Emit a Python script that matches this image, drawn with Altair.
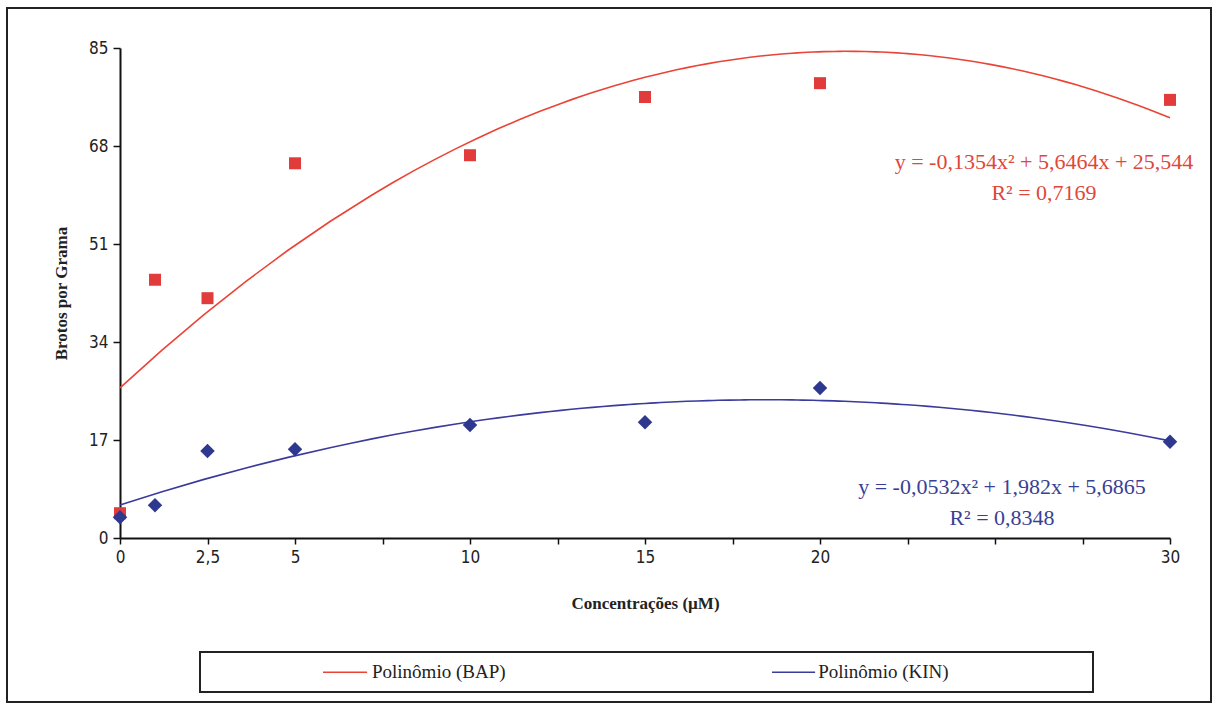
import altair as alt
import pandas as pd

# ---- data ----
conc = [0, 1, 2.5, 5, 10, 15, 20, 30]
bap = [4.3, 44.8, 41.6, 65.0, 66.4, 76.5, 78.9, 76.0]
kin = [3.6, 5.7, 15.1, 15.4, 19.6, 20.1, 26.0, 16.7]
series = ["Polinômio (BAP)", "Polinômio (KIN)"]

y_ticks = [0, 17, 34, 51, 68, 85]
x_ticks = [0, 2.5, 5, 7.5, 10, 12.5, 15, 17.5, 20, 22.5, 25, 27.5, 30]
x_labeled = [0, 2.5, 5, 10, 15, 20, 30]

eq_text = ["y = -0,1354x² + 5,6464x + 25,544", "R² = 0,7169",
           "y = -0,0532x² + 1,982x + 5,6865", "R² = 0,8348"]
eq_series = [series[0], series[0], series[1], series[1]]
eq_x = [26.4, 26.4, 25.2, 25.2]
eq_y = [65.2, 59.8, 8.85, 3.5]

# legend entries (placed in axis units, below the plot)
leg_x1 = [5.8, 18.63]
leg_x2 = [7.06, 19.86]
leg_tx = [7.2, 19.95]
leg_y = [-23.3, -23.3]

# ---- styling ----
line_colors = ["#ea4436", "#3a3b9a"]
point_colors = ["#e23b3b", "#2e388f"]
text_colors = ["#e0473a", "#3a3f95"]
tick_font = "Liberation Sans Narrow, DejaVu Sans Condensed, sans-serif"
serif = "Liberation Serif, serif"

df = pd.DataFrame({
    "conc": conc + conc,
    "value": bap + kin,
    "serie": [series[0]] * len(conc) + [series[1]] * len(conc),
})
df["serie_pt"] = df["serie"]

eq_df = pd.DataFrame({"x": eq_x, "y": eq_y, "text": eq_text, "serie_eq": eq_series})
leg_df = pd.DataFrame({"x1": leg_x1, "x2": leg_x2, "tx": leg_tx, "y": leg_y,
                       "serie_leg": series})

x_scale = alt.Scale(domain=[0, 30], nice=False, zero=False)
y_scale = alt.Scale(domain=[0, 85], nice=False)

label_expr = ("indexof(" + str(x_labeled) + ", datum.value) >= 0 ? "
              "replace(format(datum.value, '.1~f'), '.', ',') : ''")

x_enc = alt.X("conc:Q", scale=x_scale,
              axis=alt.Axis(values=x_ticks, labelExpr=label_expr,
                            title="Concentrações (µM)", tickSize=6,
                            labelPadding=5, titlePadding=30, labelFlush=False))
y_enc = alt.Y("value:Q", scale=y_scale,
              axis=alt.Axis(values=y_ticks, title="Brotos por Grama",
                            tickSize=7, labelPadding=5, titlePadding=18))

fits = alt.Chart(df).transform_regression(
    "conc", "value", groupby=["serie"], method="poly", order=2, extent=[0, 30]
).mark_line(strokeWidth=1.6).encode(
    x=x_enc, y=y_enc,
    color=alt.Color("serie:N", scale=alt.Scale(domain=series, range=line_colors),
                    legend=None),
)

pts = alt.Chart(df).mark_point(filled=True, opacity=1).encode(
    x=x_enc, y=y_enc,
    color=alt.Color("serie_pt:N", scale=alt.Scale(domain=series, range=point_colors),
                    legend=None),
    shape=alt.Shape("serie_pt:N", scale=alt.Scale(domain=series, range=["square", "diamond"]),
                    legend=None),
    size=alt.Size("serie_pt:N", scale=alt.Scale(domain=series, range=[144, 210]),
                  legend=None),
)

eqs = alt.Chart(eq_df).mark_text(font=serif, fontSize=22, align="center",
                                 baseline="middle").encode(
    x=alt.X("x:Q", scale=x_scale),
    y=alt.Y("y:Q", scale=y_scale),
    text="text:N",
    color=alt.Color("serie_eq:N", scale=alt.Scale(domain=series, range=text_colors),
                    legend=None),
)

leg_lines = alt.Chart(leg_df).mark_rule(strokeWidth=1.6).encode(
    x=alt.X("x1:Q", scale=x_scale), x2="x2:Q",
    y=alt.Y("y:Q", scale=y_scale),
    color=alt.Color("serie_leg:N", scale=alt.Scale(domain=series, range=line_colors),
                    legend=None),
)
leg_text = alt.Chart(leg_df).mark_text(font=serif, fontSize=19, align="left",
                                       baseline="middle", color="#222").encode(
    x=alt.X("tx:Q", scale=x_scale),
    y=alt.Y("y:Q", scale=y_scale),
    text="serie_leg:N",
)

frame_data = pd.DataFrame({"k": [0]})
outer = alt.Chart(frame_data).mark_rect(fillOpacity=0, stroke="#222", strokeWidth=2).encode(
    x=alt.value(-113), x2=alt.value(1091), y=alt.value(-40), y2=alt.value(654))
legend_box = alt.Chart(frame_data).mark_rect(fillOpacity=0, stroke="#222", strokeWidth=2).encode(
    x=alt.value(80), x2=alt.value(973), y=alt.value(604), y2=alt.value(644))

chart = alt.layer(outer, legend_box, fits, pts, eqs, leg_lines, leg_text).resolve_scale(
    color="independent", shape="independent", size="independent"
).properties(
    width=1050, height=490,
    autosize=alt.AutoSizeParams(type="none"),
    padding={"left": 120, "top": 48, "right": 45, "bottom": 167},
    background="white",
).configure_view(stroke=None).configure_axis(
    grid=False, domainColor="#111", domainWidth=2, tickColor="#111", tickWidth=1.5,
    labelFont=tick_font, labelFontSize=17, labelColor="#222",
    titleFont=serif, titleFontSize=17, titleFontWeight="bold", titleColor="#222",
)

chart.save("out.html", embed_options={"renderer": "svg", "actions": False})
